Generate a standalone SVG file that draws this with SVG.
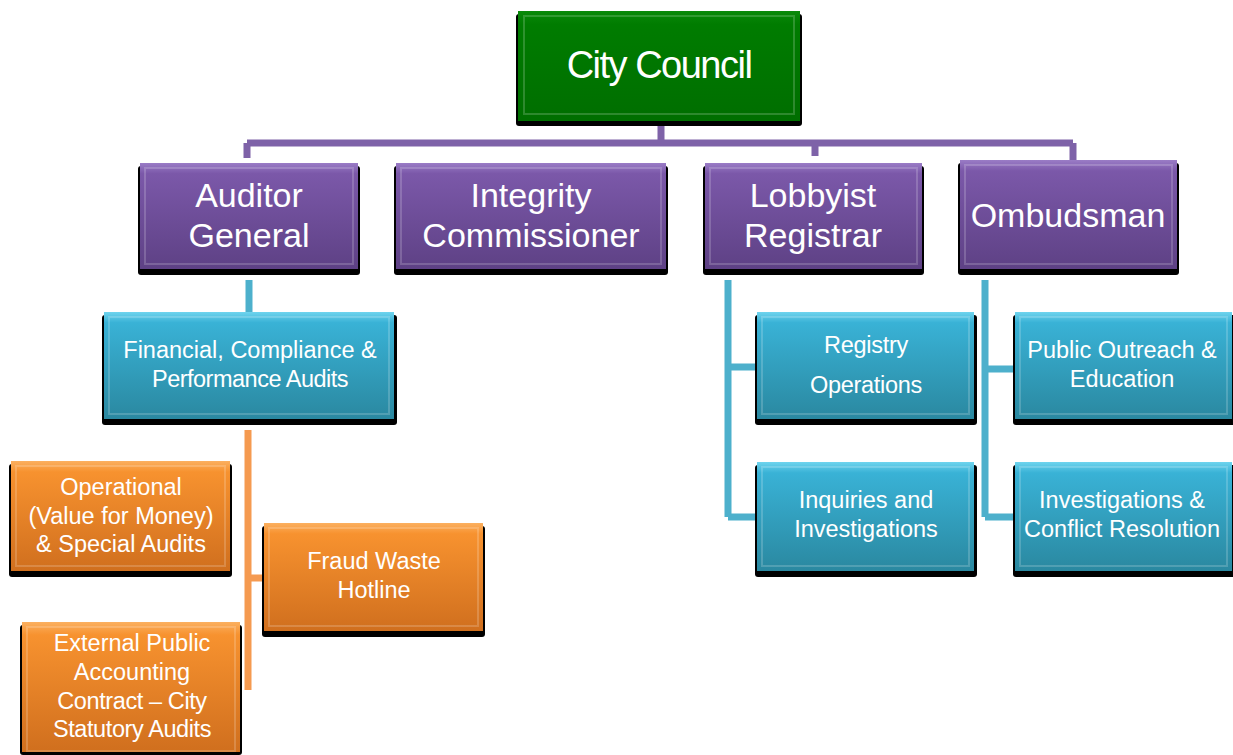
<svg xmlns="http://www.w3.org/2000/svg" width="1233" height="755" viewBox="0 0 1233 755">
<defs>
<linearGradient id="gGreen" x1="0" y1="0" x2="0" y2="1"><stop offset="0" stop-color="#0A8A0A"/><stop offset="0.12" stop-color="#007C00"/><stop offset="1" stop-color="#006E00"/></linearGradient>
<linearGradient id="gPurple" x1="0" y1="0" x2="0" y2="1"><stop offset="0" stop-color="#9A7CC6"/><stop offset="0.1" stop-color="#7B58A9"/><stop offset="1" stop-color="#5E4185"/></linearGradient>
<linearGradient id="gTeal" x1="0" y1="0" x2="0" y2="1"><stop offset="0" stop-color="#6FD4EE"/><stop offset="0.1" stop-color="#39B2D6"/><stop offset="1" stop-color="#2A88A0"/></linearGradient>
<linearGradient id="gOrange" x1="0" y1="0" x2="0" y2="1"><stop offset="0" stop-color="#FBB060"/><stop offset="0.1" stop-color="#F7922F"/><stop offset="1" stop-color="#D06F1E"/></linearGradient>
</defs>
<style>
.sh{fill:#000;}
.hl{fill:none;stroke:#ffffff;stroke-opacity:0.18;stroke-width:2;}
.t{font-family:"Liberation Sans",Arial,sans-serif;fill:#ffffff;text-anchor:middle;}
.t38{font-size:38px;letter-spacing:-1.5px;}
.t32{font-size:34px;}
.t22{font-size:23.5px;}
.cp{fill:none;stroke:#7E62A8;stroke-width:7;}
.ct{fill:none;stroke:#4DB0CC;stroke-width:7;}
.co{fill:none;stroke:#F59A50;stroke-width:7;}
</style>
<g id="connectors">
<path class="cp" d="M661 124 V143 M247 143 H1073 M247 143 V158 M815 143 V156 M1073 143 V160"/>
<path class="ct" d="M249 280 V312"/>
<path class="co" d="M248 430 V690 M248 578 H262"/>
<path class="ct" d="M728 280 V517 M728 367 H755 M728 517 H755"/>
<path class="ct" d="M985 280 V517 M985 369 H1013 M985 517 H1013"/>
</g>
<g id="city-council">
<rect class="sh" x="516" y="14" width="286" height="112" rx="3"/>
<rect x="518" y="11" width="282" height="110" fill="url(#gGreen)"/>
<rect class="hl" x="524" y="16" width="270" height="98"/>
<text class="t t38" x="659" y="78">City Council</text>
</g>
<g id="auditor-general">
<rect class="sh" x="138" y="166" width="222" height="109" rx="3"/>
<rect x="140" y="163" width="218" height="106" fill="url(#gPurple)"/>
<rect class="hl" x="145" y="168" width="208" height="96"/>
<text class="t t32" x="249" y="207">Auditor</text>
<text class="t t32" x="249" y="247">General</text>
</g>
<g id="integrity-commissioner">
<rect class="sh" x="394" y="166" width="274" height="109" rx="3"/>
<rect x="396" y="163" width="270" height="106" fill="url(#gPurple)"/>
<rect class="hl" x="401" y="168" width="260" height="96"/>
<text class="t t32" x="531" y="207">Integrity</text>
<text class="t t32" x="531" y="247">Commissioner</text>
</g>
<g id="lobbyist-registrar">
<rect class="sh" x="703" y="166" width="221" height="109" rx="3"/>
<rect x="705" y="163" width="217" height="106" fill="url(#gPurple)"/>
<rect class="hl" x="710" y="168" width="207" height="96"/>
<text class="t t32" x="813" y="207">Lobbyist</text>
<text class="t t32" x="813" y="247">Registrar</text>
</g>
<g id="ombudsman">
<rect class="sh" x="958" y="163" width="221" height="112" rx="3"/>
<rect x="960" y="160" width="217" height="109" fill="url(#gPurple)"/>
<rect class="hl" x="965" y="165" width="207" height="99"/>
<text class="t t32" x="1068" y="227">Ombudsman</text>
</g>
<g id="financial-audits">
<rect class="sh" x="102" y="315" width="295" height="110" rx="3"/>
<rect x="104" y="312" width="290" height="107" fill="url(#gTeal)"/>
<rect class="hl" x="109" y="317" width="280" height="97"/>
<text class="t t22" x="250" y="358">Financial, Compliance &amp;</text>
<text class="t t22" x="250" y="387" letter-spacing="-0.5">Performance Audits</text>
</g>
<g id="registry-operations">
<rect class="sh" x="755" y="315" width="222" height="110" rx="3"/>
<rect x="757" y="312" width="217" height="107" fill="url(#gTeal)"/>
<rect class="hl" x="762" y="317" width="207" height="97"/>
<text class="t t22" x="866" y="353" letter-spacing="-0.3">Registry</text>
<text class="t t22" x="866" y="393" letter-spacing="-0.3">Operations</text>
</g>
<g id="inquiries-investigations">
<rect class="sh" x="755" y="465" width="222" height="112" rx="3"/>
<rect x="757" y="462" width="217" height="109" fill="url(#gTeal)"/>
<rect class="hl" x="762" y="467" width="207" height="99"/>
<text class="t t22" x="866" y="508">Inquiries and</text>
<text class="t t22" x="866" y="537">Investigations</text>
</g>
<g id="public-outreach">
<rect class="sh" x="1013" y="315" width="222" height="110" rx="3"/>
<rect x="1015" y="312" width="217" height="107" fill="url(#gTeal)"/>
<rect class="hl" x="1020" y="317" width="207" height="97"/>
<text class="t t22" x="1122" y="358">Public Outreach &amp;</text>
<text class="t t22" x="1122" y="387">Education</text>
</g>
<g id="investigations-conflict">
<rect class="sh" x="1013" y="465" width="222" height="112" rx="3"/>
<rect x="1015" y="462" width="217" height="109" fill="url(#gTeal)"/>
<rect class="hl" x="1020" y="467" width="207" height="99"/>
<text class="t t22" x="1122" y="508">Investigations &amp;</text>
<text class="t t22" x="1122" y="537">Conflict Resolution</text>
</g>
<g id="operational-audits">
<rect class="sh" x="9" y="464" width="223" height="113" rx="3"/>
<rect x="11" y="461" width="219" height="110" fill="url(#gOrange)"/>
<rect class="hl" x="16" y="466" width="209" height="100"/>
<text class="t t22" x="121" y="495">Operational</text>
<text class="t t22" x="121" y="524">(Value for Money)</text>
<text class="t t22" x="121" y="552">&amp; Special Audits</text>
</g>
<g id="fraud-waste-hotline">
<rect class="sh" x="262" y="526" width="223" height="111" rx="3"/>
<rect x="264" y="523" width="219" height="108" fill="url(#gOrange)"/>
<rect class="hl" x="269" y="528" width="209" height="98"/>
<text class="t t22" x="374" y="569">Fraud Waste</text>
<text class="t t22" x="374" y="598">Hotline</text>
</g>
<g id="external-audits">
<rect class="sh" x="20" y="625" width="222" height="130" rx="3"/>
<rect x="22" y="622" width="218" height="130" fill="url(#gOrange)"/>
<rect class="hl" x="27" y="627" width="208" height="124"/>
<text class="t t22" x="132" y="651">External Public</text>
<text class="t t22" x="132" y="680">Accounting</text>
<text class="t t22" x="132" y="709" letter-spacing="-0.4">Contract – City</text>
<text class="t t22" x="132" y="737" letter-spacing="-0.4">Statutory Audits</text>
</g>
</svg>
